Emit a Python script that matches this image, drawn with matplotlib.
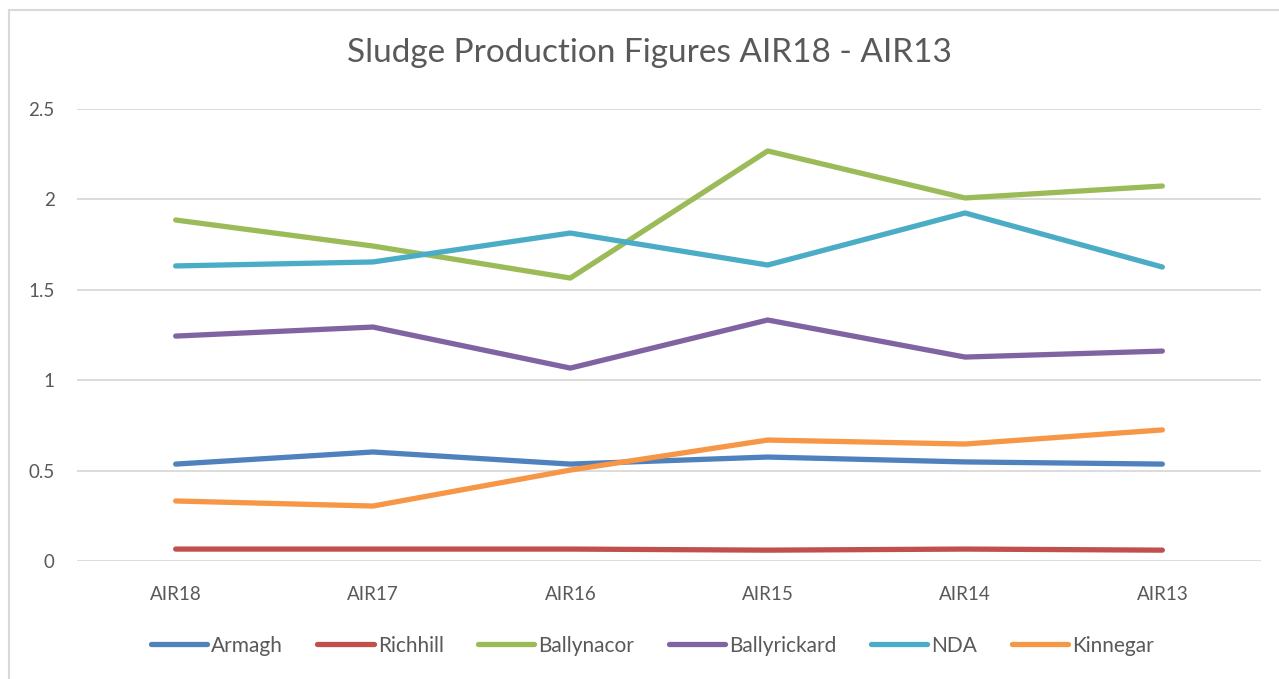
import matplotlib.pyplot as plt
from matplotlib.lines import Line2D

plt.rcParams["font.family"] = ["Lato", "DejaVu Sans"]

categories = ["AIR18", "AIR17", "AIR16", "AIR15", "AIR14", "AIR13"]
armagh = [0.536, 0.603, 0.536, 0.575, 0.548, 0.536]
richhill = [0.066, 0.066, 0.066, 0.060, 0.066, 0.060]
ballynacor = [1.886, 1.742, 1.565, 2.268, 2.008, 2.074]
ballyrickard = [1.244, 1.294, 1.067, 1.333, 1.128, 1.161]
nda = [1.632, 1.654, 1.814, 1.637, 1.925, 1.626]
kinnegar = [0.332, 0.304, 0.503, 0.669, 0.647, 0.725]

series = [
    ("Armagh", armagh, "#4F81BD"),
    ("Richhill", richhill, "#C0504D"),
    ("Ballynacor", ballynacor, "#9BBB59"),
    ("Ballyrickard", ballyrickard, "#8064A2"),
    ("NDA", nda, "#4BACC6"),
    ("Kinnegar", kinnegar, "#F79646"),
]

fig = plt.figure(figsize=(12.79, 6.79), dpi=100)
ax = fig.add_axes([77 / 1279, 118 / 679, 1184 / 1279, 452 / 679])

x = range(len(categories))
for name, vals, col in series:
    ax.plot(x, vals, color=col, lw=3.8, solid_capstyle="round",
            solid_joinstyle="round", label=name)

ax.set_xlim(-0.5, len(categories) - 0.5)
ax.set_ylim(0, 2.5)
ax.set_yticks([0, 0.5, 1, 1.5, 2, 2.5])
ax.set_yticklabels(["0", "0.5", "1", "1.5", "2", "2.5"])
ax.set_xticks(list(x))
ax.set_xticklabels(categories)
ax.grid(axis="y", color="#D9D9D9", lw=1.3)
ax.set_axisbelow(True)
for s in ax.spines.values():
    s.set_visible(False)
ax.tick_params(length=0, colors="#595959", labelsize=13.5)
ax.tick_params(axis="y", pad=16)
ax.tick_params(axis="x", pad=18)

fig.text(0.508, 0.922, "Sludge Production Figures AIR18 - AIR13",
         ha="center", va="center", fontsize=24, color="#595959")

fig.legend(loc="center", bbox_to_anchor=(0.51, 0.049), ncol=6, frameon=False,
           fontsize=15, handlelength=2.7, handletextpad=0.2,
           columnspacing=1.65, labelcolor="#595959")

# light frame along the top and left edges
fig.add_artist(Line2D([9 / 1279, 9 / 1279], [0, 1 - 10 / 679],
                      transform=fig.transFigure, color="#D9D9D9", lw=1.5))
fig.add_artist(Line2D([9 / 1279, 1], [1 - 10 / 679, 1 - 10 / 679],
                      transform=fig.transFigure, color="#D9D9D9", lw=1.5))

fig.savefig("out.png", dpi=100)
